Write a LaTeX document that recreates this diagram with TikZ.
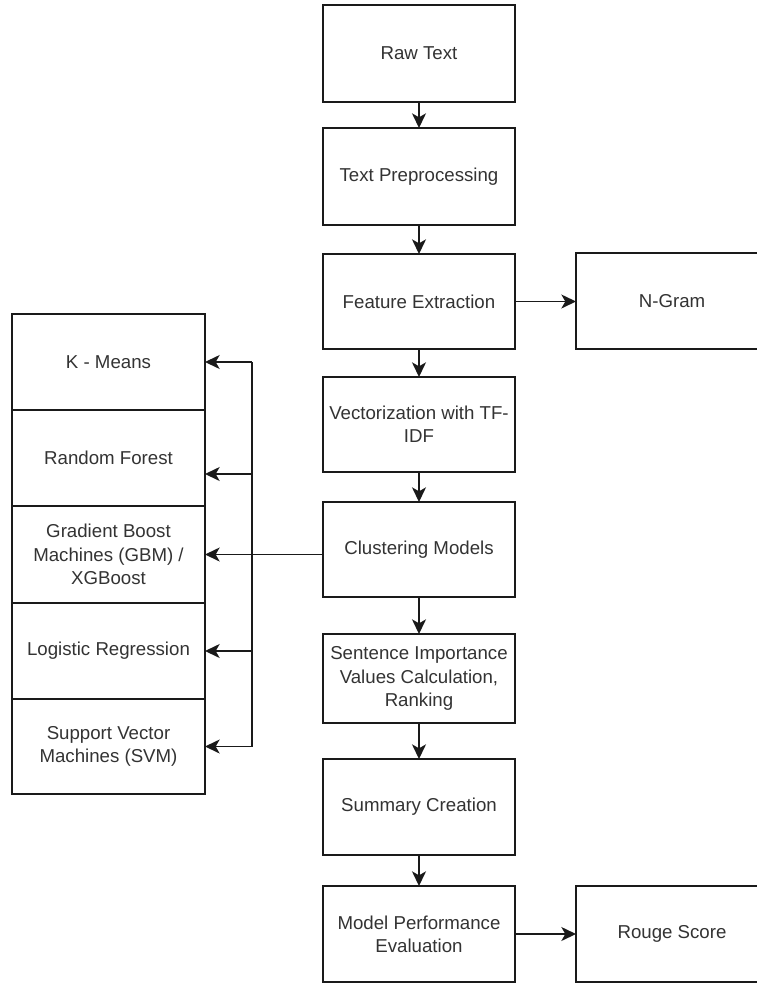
\documentclass[tikz,border=0pt]{standalone}
\usepackage{fontspec}
\setmainfont{Liberation Sans}
\usetikzlibrary{arrows.meta}
\definecolor{txt}{HTML}{333333}
\definecolor{ln}{HTML}{1A1A1A}
\begin{document}
\begin{tikzpicture}[x=0.75pt,y=-0.75pt,
  box/.style={draw=ln, line width=1.1pt, fill=white, inner sep=0pt, outer sep=0pt,
    minimum width=144pt, align=center, text=txt,
    font=\fontsize{14pt}{17.5pt}\selectfont},
  arr/.style={draw=ln, line width=1.1pt, -{Stealth[length=11pt,width=10.5pt,inset=3pt]}},
  ln/.style={draw=ln, line width=1.1pt}]
\useasboundingbox (0,0) rectangle (757,983);
\begin{scope}
\clip (0,0) rectangle (757,983);
% main column
\node[box, minimum height=72.75pt] (raw) at (419,53.5) {Raw Text};
\node[box, minimum height=72.75pt] (pre) at (419,176.5) {Text Preprocessing};
\node[box, minimum height=71.25pt] (feat) at (419,301.5) {Feature Extraction};
\node[box, minimum height=71.25pt] (vec) at (419,424.5) {Vectorization with TF-\\IDF};
\node[box, minimum height=71.25pt] (clus) at (419,549.5) {Clustering Models};
\node[box, minimum height=66.75pt] (sent) at (419,678.5) {Sentence Importance\\Values Calculation,\\Ranking};
\node[box, minimum height=72pt] (summ) at (419,807) {Summary Creation};
\node[box, minimum height=72pt] (eval) at (419,934) {Model Performance\\Evaluation};
% right side
\node[box, minimum height=72pt] (ngram) at (672,301) {N-Gram};
\node[box, minimum height=72pt] (rouge) at (672,934) {Rouge Score};
% left stack
\node[box, minimum width=144.75pt, minimum height=72pt] (km) at (108.5,362) {K - Means};
\node[box, minimum width=144.75pt, minimum height=72pt] (rf) at (108.5,458) {Random Forest};
\node[box, minimum width=144.75pt, minimum height=72.75pt] (gb) at (108.5,554.5) {Gradient Boost\\Machines (GBM) /\\XGBoost};
\node[box, minimum width=144.75pt, minimum height=72pt] (lr) at (108.5,651) {Logistic Regression};
\node[box, minimum width=144.75pt, minimum height=71.25pt] (svm) at (108.5,746.5) {Support Vector\\Machines (SVM)};
% main flow
\draw[arr] (raw) -- (pre);
\draw[arr] (pre) -- (feat);
\draw[arr] (feat) -- (vec);
\draw[arr] (vec) -- (clus);
\draw[arr] (clus) -- (sent);
\draw[arr] (sent) -- (summ);
\draw[arr] (summ) -- (eval);
\draw[arr] (feat) -- (feat -| ngram.west);
\draw[arr] (eval) -- (rouge);
% bus to left stack
\coordinate (btop) at (252,362);
\coordinate (brf) at (252,474);
\coordinate (bbot) at (252,746.5);
\draw[ln] (btop) -- (bbot);
\draw[arr] (clus.west |- gb.east) -- (gb.east);
\draw[arr] (btop) -- (km.east);
\draw[arr] (brf) -- (brf -| rf.east);
\draw[arr] (252,651 |- lr.east) -- (lr.east);
\draw[arr] (bbot) -- (svm.east);
\end{scope}
\end{tikzpicture}
\end{document}
